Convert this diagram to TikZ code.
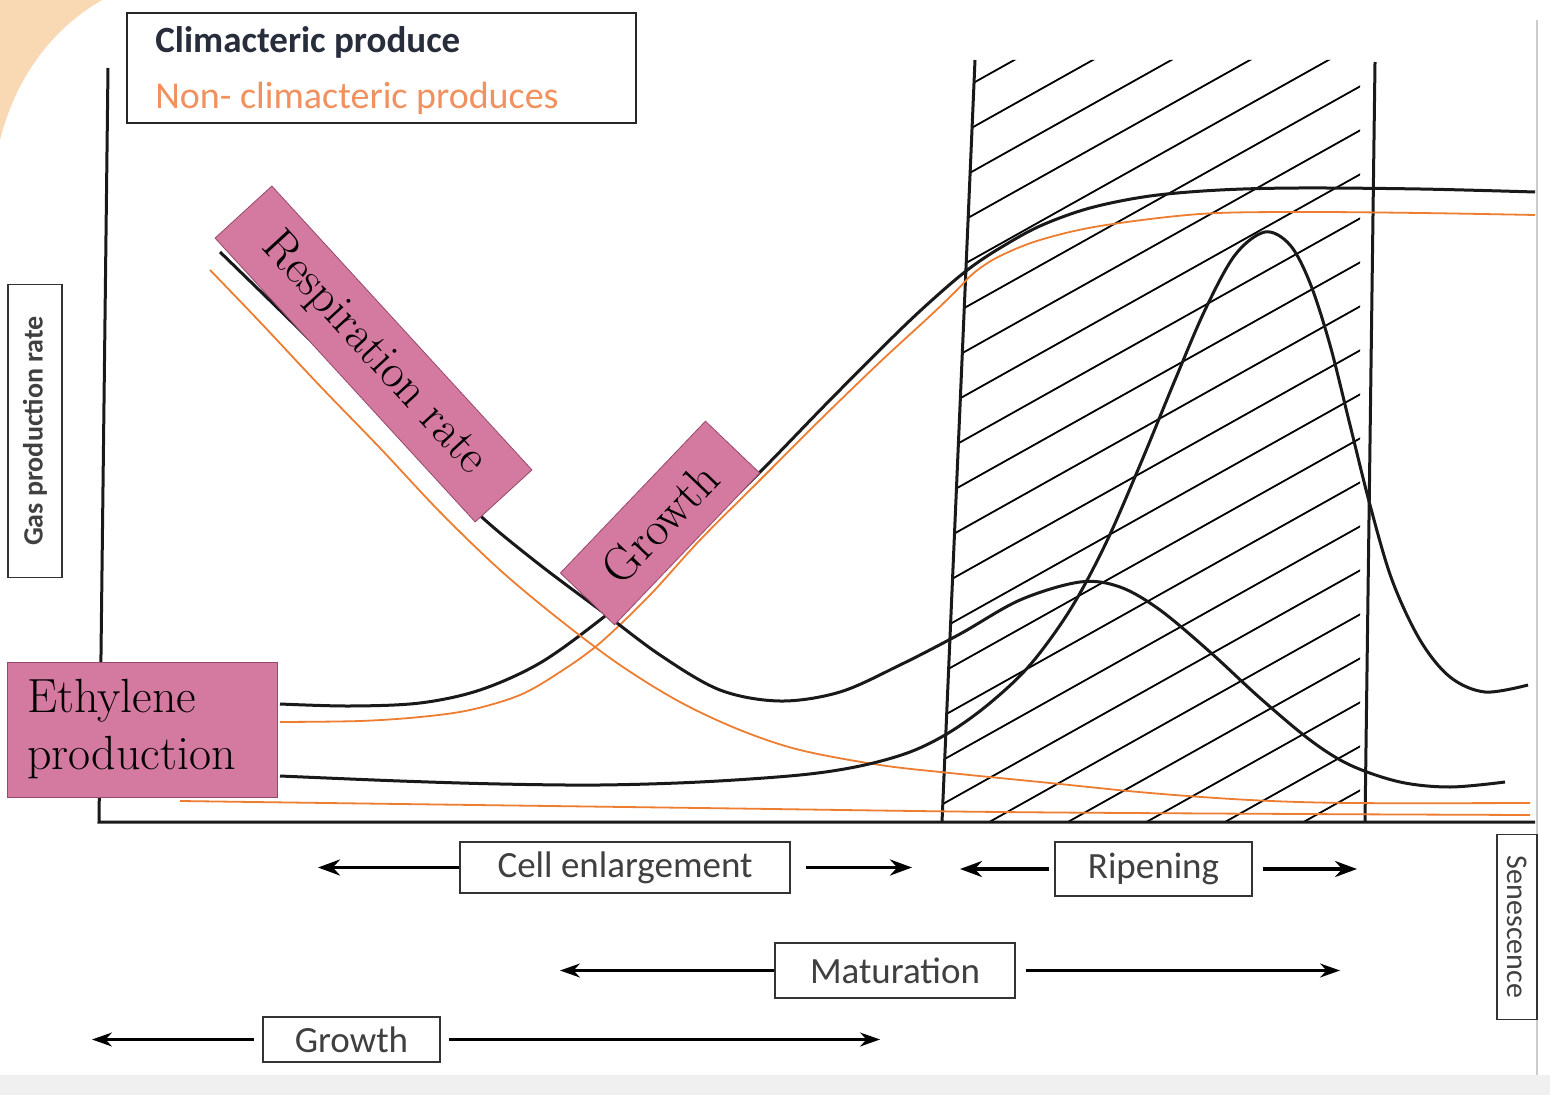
\documentclass[tikz,border=0pt]{standalone}
\usepackage{xcolor}
\usepackage{fontspec}
\setsansfont{Carlito}
\usepackage{tikz}
\usetikzlibrary{arrows.meta}
\definecolor{pinkfill}{RGB}{212,122,160}
\definecolor{pinkdraw}{RGB}{150,72,108}
\definecolor{nonclim}{RGB}{237,125,49}
\definecolor{nonclimtext}{RGB}{240,145,95}
\definecolor{climtext}{RGB}{40,45,60}
\definecolor{peach}{RGB}{249,216,180}
\definecolor{phasetext}{RGB}{64,64,64}
\tikzstyle{pinkbox} = [draw=pinkdraw, thin, rectangle, fill=pinkfill, inner sep=0pt, font=\fontsize{24}{28.5}\selectfont]
\tikzstyle{phasebox} = [draw=black!80, line width=0.8pt, rectangle, fill=white, inner sep=0pt, text=phasetext, font=\sffamily\fontsize{18.5}{22}\selectfont]
\tikzstyle{sidebox} = [draw=black!80, line width=0.8pt, rectangle, fill=white, inner sep=0pt, text=phasetext, font=\sffamily\bfseries\fontsize{14}{16}\selectfont]
\tikzstyle{phasearrow} = [line width=1.8pt, -{Stealth[length=11pt,width=8pt]}]
\tikzstyle{thinarrow} = [line width=1.1pt, -{Stealth[length=10pt,width=7pt]}]
\tikzstyle{clim} = [line width=1.5pt, black!90]
\tikzstyle{nonclimline} = [line width=0.9pt, nonclim]

\begin{document}
\begin{tikzpicture}[x=0.5pt, y=-0.5pt]
    \useasboundingbox (0,0) rectangle (1550,1095);
    \fill[white] (0,0) rectangle (1550,1095);
    % card corner and edges
    \fill[peach] (0,0) -- (102,0) .. controls (50,30) and (15,80) .. (0,140) -- cycle;
    \fill[black!6] (0,1075) rectangle (1550,1095);
    \draw[black!20, line width=0.6pt] (1537,20) -- (1537,1075);

    % hatched ripening window
    \begin{scope}
        \clip (975,60) -- (1360,60) -- (1360,822) -- (942,822) -- cycle;
        \foreach \k in {0,...,21}
            \draw[line width=0.9pt] (900,124+44*\k) -- ++(500,-280);
    \end{scope}
    \draw[clim] (975,60) -- (942,822);
    \draw[clim] (1375,62) -- (1365,822);

    % axes
    \draw[clim] (108,68) -- (99,822) -- (1535,822);

    % growth
    \draw[clim] plot[smooth, tension=0.55] coordinates {(280,704) (350,706) (420,703) (480,690) (540,663) (600,620) (650,578) (700,530) (760,472) (830,400) (900,330) (940,293) (970,268) (1000,248) (1040,226) (1090,208) (1150,196) (1220,190) (1300,188) (1420,189) (1535,192)};
    \draw[nonclimline] plot[smooth, tension=0.55] coordinates {(280,722) (360,721) (420,717) (470,710) (520,695) (560,672) (600,643) (650,595) (700,540) (760,480) (820,420) (880,362) (930,316) (955,292) (975,272) (1000,256) (1040,240) (1100,226) (1200,214) (1300,212) (1420,213) (1535,215)};
    % respiration
    \draw[clim] plot[smooth, tension=0.55] coordinates {(220,252) (300,330) (380,410) (440,475) (485,520) (540,565) (600,610) (660,655) (720,690) (780,701) (840,692) (900,665) (960,634) (1020,600) (1080,582) (1120,587) (1160,610) (1210,652) (1260,698) (1310,740) (1350,765) (1400,782) (1450,787) (1505,782)};
    \draw[nonclimline] plot[smooth, tension=0.55] coordinates {(210,270) (260,322) (320,386) (380,448) (440,512) (500,570) (560,620) (620,665) (680,702) (740,730) (800,750) (880,765) (950,773) (1050,783) (1150,793) (1250,800) (1350,803) (1530,803)};
    % ethylene
    \draw[clim] plot[smooth, tension=0.55] coordinates {(280,776) (400,781) (500,784) (600,785) (700,782) (800,775) (860,766) (910,752) (950,732) (990,703) (1030,665) (1070,610) (1105,545) (1140,465) (1175,380) (1205,310) (1235,255) (1265,232) (1290,245) (1310,283) (1330,345) (1350,425) (1370,505) (1392,580) (1420,640) (1450,677) (1485,692) (1528,685)};
    \draw[nonclimline] plot[smooth, tension=0.55] coordinates {(180,801) (400,804) (700,808) (1000,812) (1300,814) (1530,815)};

    % curve labels
    \node[pinkbox, rotate=-47.5, minimum width=192.5pt, minimum height=38.5pt] (resp) at (373.5,354) {Respiration rate};
    \node[pinkbox, rotate=46.3, minimum width=105pt, minimum height=37.5pt] (growthlbl) at (660,523) {Growth};
    \node[pinkbox, minimum width=135pt, minimum height=67.5pt, align=left, text width=115pt] (ethylene) at (142,729.5) {Ethylene\\production};

    % legend
    \node[draw=black!85, line width=1pt, minimum width=254.5pt, minimum height=55pt, inner sep=0pt] (legend) at (381.5,68) {};
    \node[anchor=west, inner sep=0pt, text=climtext, font=\sffamily\bfseries\fontsize{18.5}{22}\selectfont] (climtxt) at (155,42) {Climacteric produce};
    \node[anchor=west, inner sep=0pt, text=nonclimtext, font=\sffamily\fontsize{19}{22}\selectfont] (nonclimtxt) at (155,98) {Non- climacteric produces};

    % side labels
    \node[sidebox, rotate=90, minimum width=146.5pt, minimum height=27pt] (gasrate) at (35,431) {Gas production rate};
    \node[sidebox, font=\sffamily\fontsize{15}{17}\selectfont, rotate=-90, minimum width=92.5pt, minimum height=20pt] (senes) at (1517,927) {Senescence};

    % stages
    \node[phasebox, minimum width=165pt, minimum height=25.5pt] (cell) at (625,867.5) {Cell enlargement};
    \node[phasebox, minimum width=98.5pt, minimum height=27pt] (ripen) at (1153.5,869) {Ripening};
    \node[phasebox, minimum width=120pt, minimum height=27.5pt] (matur) at (895,970.5) {Maturation};
    \node[phasebox, minimum width=88.5pt, minimum height=22.5pt] (growth) at (351.5,1039.5) {Growth};

    \coordinate (cellL) at (318,867.5);
    \coordinate (cellR) at (912,867.5);
    \coordinate (ripenL) at (960,869);
    \coordinate (ripenR) at (1357,869);
    \coordinate (maturL) at (560,970.5);
    \coordinate (maturR) at (1340,970.5);
    \coordinate (growthL) at (92,1039.5);
    \coordinate (growthR) at (880,1039.5);

    \draw[phasearrow] (cell.west) -- (cellL);
    \draw[phasearrow, shorten <=7.5pt] (cell.east) -- (cellR);
    \draw[phasearrow, shorten <=2.5pt] (ripen.west) -- (ripenL);
    \draw[phasearrow, shorten <=5pt] (ripen.east) -- (ripenR);
    \draw[thinarrow] (matur.west) -- (maturL);
    \draw[thinarrow, shorten <=5pt] (matur.east) -- (maturR);
    \draw[thinarrow, shorten <=4pt] (growth.west) -- (growthL);
    \draw[thinarrow, shorten <=4pt] (growth.east) -- (growthR);
\end{tikzpicture}
\end{document}
